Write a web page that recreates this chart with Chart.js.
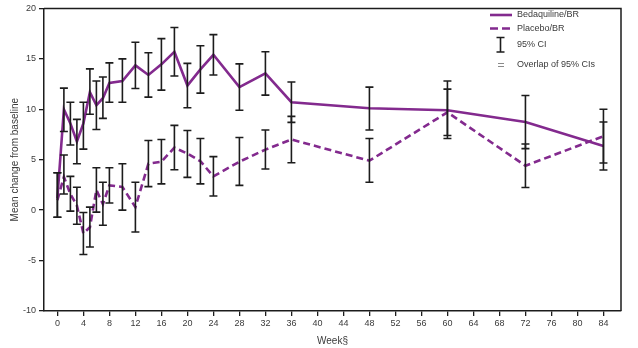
<!DOCTYPE html>
<html>
<head>
<meta charset="utf-8">
<script src="https://cdn.jsdelivr.net/npm/chart.js@4/dist/chart.umd.min.js"></script>
<style>
  html, body { margin: 0; padding: 0; background: #fff; }
  #wrap { width: 638px; height: 348px; }
</style>
</head>
<body>
<div id="wrap"><canvas id="c" width="638" height="348"></canvas></div>
<script>
// Study weeks at which both arms were measured
const weeks = [0, 1, 2, 3, 4, 5, 6, 7, 8, 10, 12, 14, 16, 18, 20, 22, 24, 28, 32, 36, 48, 60, 72, 84];

// Bedaquiline/BR: mean change from baseline and 95% CI bounds
const bedaquilineMean = [1.2, 10.0, 8.6, 6.8, 8.6, 11.7, 10.4, 11.1, 12.6, 12.8, 14.35, 13.4, 14.45, 15.7, 12.35, 13.95, 15.4, 12.2, 13.55, 10.7, 10.1, 9.9, 8.74, 6.36];
const bedaquilineLow  = [-0.7, 7.8, 6.45, 4.6, 6.05, 9.5, 8.0, 9.1, 10.7, 10.7, 12.06, 11.2, 11.9, 13.3, 10.15, 11.6, 13.4, 9.9, 11.4, 8.7, 7.95, 7.1, 6.1, 3.98];
const bedaquilineHigh = [3.7, 12.1, 10.7, 9.0, 10.7, 14.0, 12.8, 13.2, 14.6, 15.0, 16.65, 15.6, 17.0, 18.1, 14.55, 16.3, 17.4, 14.5, 15.7, 12.7, 12.2, 12.8, 11.37, 8.74];

// Placebo/BR: mean change from baseline and 95% CI bounds
const placeboMean = [1.0, 3.3, 1.6, 0.45, -2.3, -1.7, 2.0, 0.6, 2.45, 2.3, 0.3, 4.6, 4.8, 6.2, 5.6, 4.85, 3.35, 4.8, 6.0, 7.0, 4.9, 9.7, 4.4, 7.33];
const placeboLow  = [-0.7, 1.6, -0.1, -1.4, -4.4, -3.65, -0.2, -1.5, 0.7, 0.0, -2.17, 2.33, 2.6, 4.0, 3.25, 2.6, 1.4, 2.45, 4.08, 4.7, 2.76, 7.4, 2.24, 4.67];
const placeboHigh = [3.7, 5.46, 3.35, 2.27, -0.23, 0.3, 4.2, 2.76, 4.2, 4.6, 2.76, 6.9, 7.0, 8.4, 7.9, 7.1, 5.3, 7.2, 7.95, 9.3, 7.1, 12.0, 6.56, 10.0];

// Axis tick labels
const weekTicks = [0, 4, 8, 12, 16, 20, 24, 28, 32, 36, 40, 44, 48, 52, 56, 60, 64, 68, 72, 76, 80, 84];
const changeTicks = [-10, -5, 0, 5, 10, 15, 20];

const seriesNames = ['Bedaquiline/BR', 'Placebo/BR'];
const legendNotes = ['95% CI', 'Overlap of 95% CIs'];

const PURPLE = '#832a8e';
const INK = '#1c1c1c';
const TEXT = '#3a3a3a';
const FONT = "'Liberation Sans', Arial, sans-serif";

const toPoints = (vals) => weeks.map((w, i) => ({ x: w, y: vals[i] }));

// Vertical 95% CI whiskers with end caps for each series
const ciBars = {
  id: 'ciBars',
  afterDatasetsDraw(chart) {
    const { ctx, scales: { x, y } } = chart;
    const sets = [[bedaquilineLow, bedaquilineHigh], [placeboLow, placeboHigh]];
    ctx.save();
    ctx.strokeStyle = INK;
    ctx.lineWidth = 1.6;
    ctx.setLineDash([]);
    sets.forEach(([lo, hi]) => {
      weeks.forEach((w, i) => {
        const px = x.getPixelForValue(w);
        const y1 = y.getPixelForValue(lo[i]);
        const y2 = y.getPixelForValue(hi[i]);
        ctx.beginPath();
        ctx.moveTo(px, y1); ctx.lineTo(px, y2);
        ctx.moveTo(px - 4, y1); ctx.lineTo(px + 4, y1);
        ctx.moveTo(px - 4, y2); ctx.lineTo(px + 4, y2);
        ctx.stroke();
      });
    });
    ctx.restore();
  }
};

// Closes the plot frame on the top and right sides
const frame = {
  id: 'frame',
  afterDraw(chart) {
    const { ctx, chartArea: a } = chart;
    ctx.save();
    ctx.strokeStyle = INK;
    ctx.lineWidth = 1.5;
    ctx.beginPath();
    ctx.moveTo(a.left, a.top);
    ctx.lineTo(a.right, a.top);
    ctx.lineTo(a.right, a.bottom);
    ctx.stroke();
    ctx.restore();
  }
};

// Key in the upper right corner
const keyBox = {
  id: 'keyBox',
  afterDraw(chart) {
    const { ctx } = chart;
    const x0 = 490, x1 = 512, tx = 517;
    ctx.save();
    ctx.strokeStyle = PURPLE;
    ctx.lineWidth = 2.6;
    ctx.beginPath(); ctx.moveTo(x0, 15); ctx.lineTo(x1, 15); ctx.stroke();
    ctx.setLineDash([8, 4]);
    ctx.beginPath(); ctx.moveTo(x0, 28.5); ctx.lineTo(x1, 28.5); ctx.stroke();
    ctx.setLineDash([]);
    ctx.strokeStyle = INK;
    ctx.lineWidth = 1.6;
    ctx.beginPath();
    ctx.moveTo(500.5, 37.5); ctx.lineTo(500.5, 52);
    ctx.moveTo(496.5, 37.5); ctx.lineTo(504.5, 37.5);
    ctx.moveTo(496.5, 52); ctx.lineTo(504.5, 52);
    ctx.stroke();
    ctx.strokeStyle = '#8a8a8a';
    ctx.lineWidth = 1;
    ctx.beginPath();
    ctx.moveTo(498, 63.5); ctx.lineTo(504, 63.5);
    ctx.moveTo(498, 66.5); ctx.lineTo(504, 66.5);
    ctx.stroke();
    ctx.fillStyle = TEXT;
    ctx.font = '9px ' + FONT;
    ctx.textBaseline = 'middle';
    ctx.textAlign = 'left';
    ctx.fillText(seriesNames[0], tx, 15);
    ctx.fillText(seriesNames[1], tx, 28.5);
    ctx.fillText(legendNotes[0], tx, 45);
    ctx.fillText(legendNotes[1], tx, 64.5);
    ctx.restore();
  }
};

new Chart(document.getElementById('c'), {
  type: 'line',
  data: {
    datasets: [
      {
        label: seriesNames[0],
        data: toPoints(bedaquilineMean),
        borderColor: PURPLE,
        borderWidth: 2.6,
        pointRadius: 0,
        tension: 0,
        fill: false
      },
      {
        label: seriesNames[1],
        data: toPoints(placeboMean),
        borderColor: PURPLE,
        borderWidth: 2.6,
        borderDash: [7, 4],
        pointRadius: 0,
        tension: 0,
        fill: false
      }
    ]
  },
  options: {
    responsive: false,
    animation: false,
    layout: { padding: { top: 7, right: 17, left: 0, bottom: 0 } },
    plugins: { legend: { display: false }, tooltip: { enabled: false } },
    scales: {
      x: {
        type: 'linear',
        min: -2.06,
        max: 86.7,
        afterBuildTicks: (s) => { s.ticks = weekTicks.map(v => ({ value: v })); },
        afterFit: (s) => { s.height = 37; },
        ticks: { color: TEXT, font: { family: FONT, size: 9 }, maxRotation: 0, autoSkip: false, padding: 2 },
        grid: { drawOnChartArea: false, drawTicks: true, tickLength: 5, color: INK, lineWidth: 1.3 },
        border: { display: true, color: INK, width: 1.5 },
        title: { display: true, text: 'Week§', color: TEXT, font: { family: FONT, size: 10 }, padding: { top: 0, bottom: 1 } }
      },
      y: {
        min: -10,
        max: 20,
        afterBuildTicks: (s) => { s.ticks = changeTicks.map(v => ({ value: v })); },
        afterFit: (s) => { s.width = 44; },
        ticks: { color: TEXT, font: { family: FONT, size: 9 }, padding: 3 },
        grid: { drawOnChartArea: false, drawTicks: true, tickLength: 5, color: INK, lineWidth: 1.3 },
        border: { display: true, color: INK, width: 1.5 },
        title: { display: true, text: 'Mean change from baseline', color: TEXT, font: { family: FONT, size: 10 }, padding: { top: 9, bottom: 0 } }
      }
    }
  },
  plugins: [ciBars, frame, keyBox]
});
</script>
</body>
</html>
